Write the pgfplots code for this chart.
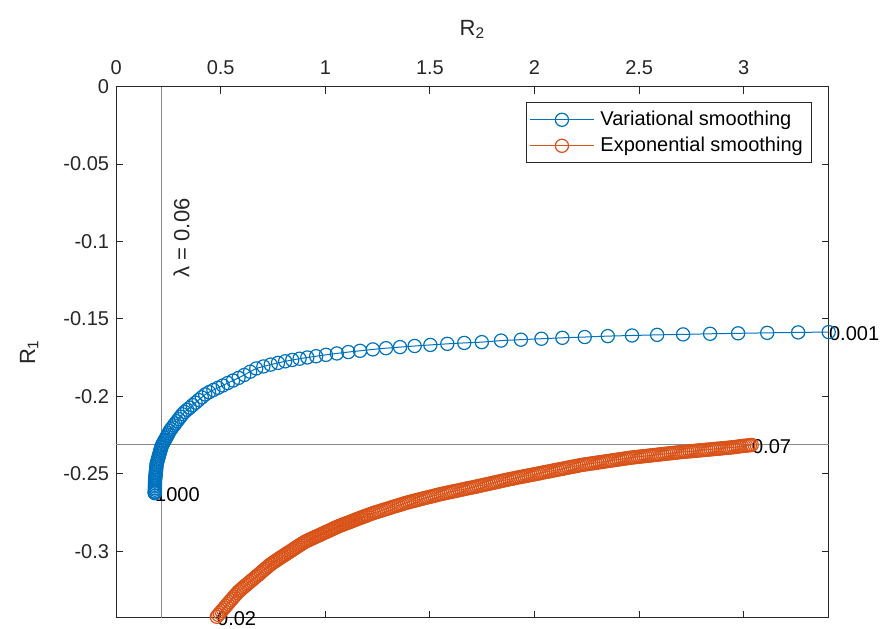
\documentclass[border=0pt]{standalone}
\usepackage{fontspec}
\setmainfont{Liberation Sans}
\usepackage{pgfplots}
\pgfplotsset{compat=1.18}
\definecolor{mblue}{RGB}{0,114,189}
\definecolor{morange}{RGB}{217,83,25}
\definecolor{maxis}{RGB}{38,38,38}
\definecolor{mgray}{RGB}{135,135,135}
\begin{document}
\begin{tikzpicture}
\begin{axis}[
  at={(0,0)}, anchor=south west,
  scale only axis, width=356.3pt, height=265.5pt,
  xmin=0, xmax=3.406, ymin=-0.343, ymax=0,
  clip=false,
  axis line style={maxis, line width=0.5pt},
  tick style={maxis, line width=0.5pt},
  major tick length=3.5pt,
  tick align=inside,
  xtick pos=both, ytick pos=both,
  xticklabel pos=right, yticklabel pos=left,
  xtick={0,0.5,1,1.5,2,2.5,3},
  ytick={-0.3,-0.25,-0.2,-0.15,-0.1,-0.05,0},
  yticklabels={-0.3,-0.25,-0.2,-0.15,-0.1,-0.05,0},
  xticklabels={0,0.5,1,1.5,2,2.5,3},
  ticklabel style={font=\fontsize{10}{12}\selectfont, text=maxis},
  xticklabel style={yshift=2.5pt},
  /pgf/number format/assume math mode=true,
  legend style={at={(1,1)}, anchor=north east, xshift=-8.2pt, yshift=-7.8pt,
    draw=maxis, line width=0.5pt, fill=white,
    font=\fontsize{10}{12}\selectfont, text=black,
    inner xsep=1.5pt, inner ysep=3.2pt, row sep=2.4pt,
    nodes={text height=7.4pt, text depth=2.2pt, inner xsep=3pt, inner ysep=0.5pt},
    cells={anchor=west}},
  legend image code/.code={\draw[mark repeat=2, mark phase=2] plot coordinates {(0pt,0pt) (16pt,0pt) (32pt,0pt)};},
]
\addplot[color=mblue, line width=0.5pt, mark=o, mark size=3.3pt, mark options={solid, line width=0.6pt}] coordinates {
(3.406,-0.1585) (3.260,-0.1587) (3.112,-0.1590) (2.973,-0.1593) (2.839,-0.1596)
(2.710,-0.1600) (2.586,-0.1603) (2.466,-0.1607) (2.350,-0.1611) (2.240,-0.1617)
(2.133,-0.1622) (2.033,-0.1628) (1.935,-0.1634) (1.840,-0.1640) (1.748,-0.1650)
(1.664,-0.1655) (1.583,-0.1661) (1.502,-0.1668) (1.427,-0.1675) (1.357,-0.1682)
(1.290,-0.1689) (1.227,-0.1697) (1.166,-0.1706) (1.110,-0.1714) (1.055,-0.1723)
(1.003,-0.1732) (0.956,-0.1741) (0.914,-0.1749) (0.877,-0.1757) (0.842,-0.1765)
(0.808,-0.1774) (0.774,-0.1784) (0.739,-0.1795) (0.704,-0.1807) (0.670,-0.1820)
(0.6405,-0.1841) (0.6124,-0.1862) (0.5854,-0.1881) (0.5591,-0.1898) (0.5340,-0.1914)
(0.5100,-0.1930) (0.4871,-0.1945) (0.4652,-0.1959) (0.4443,-0.1973) (0.4258,-0.1988)
(0.4097,-0.2007) (0.3944,-0.2024) (0.3798,-0.2041) (0.3657,-0.2057) (0.3524,-0.2073)
(0.3397,-0.2087) (0.3275,-0.2101) (0.3167,-0.2116) (0.3078,-0.2132) (0.2993,-0.2147)
(0.2912,-0.2161) (0.2834,-0.2175) (0.2760,-0.2188) (0.2689,-0.2201) (0.2622,-0.2213)
(0.2563,-0.2224) (0.2514,-0.2237) (0.2468,-0.2248) (0.2424,-0.2259) (0.2382,-0.2270)
(0.2342,-0.2280) (0.2303,-0.2289) (0.2267,-0.2298) (0.2231,-0.2307) (0.2198,-0.2316)
(0.2169,-0.2325) (0.2148,-0.2335) (0.2127,-0.2345) (0.2106,-0.2355) (0.2085,-0.2365)
(0.2064,-0.2375) (0.2043,-0.2386) (0.2022,-0.2396) (0.2001,-0.2406) (0.1980,-0.2416)
(0.1959,-0.2426) (0.1939,-0.2436) (0.1932,-0.2446) (0.1924,-0.2457) (0.1917,-0.2467)
(0.1909,-0.2478) (0.1901,-0.2488) (0.1894,-0.2498) (0.1886,-0.2509) (0.1879,-0.2519)
(0.1871,-0.2530) (0.1864,-0.2540) (0.1859,-0.2551) (0.1858,-0.2561) (0.1857,-0.2572)
(0.1855,-0.2582) (0.1854,-0.2593) (0.1853,-0.2603) (0.1851,-0.2614) (0.1850,-0.2620)
(0.1850,-0.2624) (0.1850,-0.2625)
};
\addlegendentry{Variational smoothing}
\addplot[color=morange, line width=0.5pt, mark=o, mark size=3.3pt, mark options={solid, line width=0.6pt}] coordinates {
(0.481,-0.3424) (0.496,-0.3400) (0.511,-0.3377) (0.526,-0.3353) (0.541,-0.3329)
(0.556,-0.3306) (0.571,-0.3282) (0.586,-0.3260) (0.601,-0.3243) (0.616,-0.3225)
(0.631,-0.3208) (0.646,-0.3191) (0.661,-0.3174) (0.676,-0.3157) (0.691,-0.3140)
(0.706,-0.3122) (0.721,-0.3105) (0.736,-0.3088) (0.751,-0.3073) (0.766,-0.3060)
(0.781,-0.3046) (0.796,-0.3033) (0.811,-0.3020) (0.826,-0.3007) (0.841,-0.2994)
(0.856,-0.2980) (0.871,-0.2967) (0.886,-0.2954) (0.901,-0.2941) (0.916,-0.2931)
(0.931,-0.2922) (0.946,-0.2912) (0.961,-0.2903) (0.976,-0.2894) (0.991,-0.2884)
(1.006,-0.2875) (1.021,-0.2866) (1.036,-0.2856) (1.051,-0.2847) (1.066,-0.2838)
(1.081,-0.2830) (1.096,-0.2822) (1.111,-0.2815) (1.126,-0.2807) (1.141,-0.2799)
(1.156,-0.2791) (1.171,-0.2783) (1.186,-0.2776) (1.201,-0.2768) (1.221,-0.2758)
(1.241,-0.2749) (1.261,-0.2741) (1.281,-0.2732) (1.301,-0.2724) (1.321,-0.2715)
(1.341,-0.2707) (1.361,-0.2699) (1.381,-0.2690) (1.401,-0.2683) (1.421,-0.2676)
(1.441,-0.2669) (1.461,-0.2662) (1.481,-0.2655) (1.501,-0.2649) (1.521,-0.2642)
(1.541,-0.2635) (1.561,-0.2629) (1.581,-0.2623) (1.601,-0.2617) (1.621,-0.2612)
(1.641,-0.2606) (1.661,-0.2600) (1.681,-0.2594) (1.701,-0.2589) (1.721,-0.2583)
(1.741,-0.2577) (1.761,-0.2571) (1.781,-0.2565) (1.801,-0.2559) (1.821,-0.2553)
(1.841,-0.2547) (1.861,-0.2541) (1.881,-0.2535) (1.901,-0.2530) (1.921,-0.2524)
(1.941,-0.2519) (1.961,-0.2514) (1.981,-0.2508) (2.001,-0.2503) (2.021,-0.2498)
(2.041,-0.2492) (2.061,-0.2487) (2.081,-0.2482) (2.101,-0.2476) (2.121,-0.2471)
(2.141,-0.2466) (2.161,-0.2460) (2.181,-0.2455) (2.201,-0.2450) (2.221,-0.2444)
(2.241,-0.2440) (2.261,-0.2436) (2.281,-0.2432) (2.301,-0.2428) (2.321,-0.2424)
(2.341,-0.2420) (2.361,-0.2416) (2.381,-0.2412) (2.401,-0.2408) (2.421,-0.2404)
(2.441,-0.2400) (2.461,-0.2396) (2.481,-0.2393) (2.501,-0.2390) (2.521,-0.2387)
(2.541,-0.2384) (2.561,-0.2381) (2.581,-0.2378) (2.601,-0.2375) (2.621,-0.2372)
(2.641,-0.2369) (2.661,-0.2366) (2.681,-0.2363) (2.701,-0.2360) (2.721,-0.2358)
(2.741,-0.2355) (2.761,-0.2353) (2.781,-0.2350) (2.801,-0.2348) (2.821,-0.2345)
(2.841,-0.2343) (2.861,-0.2340) (2.881,-0.2338) (2.901,-0.2335) (2.921,-0.2333)
(2.941,-0.2330) (2.961,-0.2327) (2.981,-0.2323) (3.001,-0.2320) (3.021,-0.2317)
(3.038,-0.2314)
};
\addlegendentry{Exponential smoothing}
\addplot[color=morange, only marks, mark=o, mark size=3.3pt, mark options={solid, line width=0.6pt}, forget plot] coordinates {
(0.4885,-0.3412) (0.5035,-0.33885) (0.5185,-0.3365) (0.5335,-0.3341) (0.5485,-0.33175)
(0.5635,-0.3294) (0.5785,-0.3271) (0.5935,-0.32515) (0.6085,-0.3234) (0.6235,-0.32165)
(0.6385,-0.31995) (0.6535,-0.31825) (0.6685,-0.31655) (0.6835,-0.31485) (0.6985,-0.3131)
(0.7135,-0.31135) (0.7285,-0.30965) (0.7435,-0.30805) (0.7585,-0.30665) (0.7735,-0.3053)
(0.7885,-0.30395) (0.8035,-0.30265) (0.8185,-0.30135) (0.8335,-0.30005) (0.8485,-0.2987)
(0.8635,-0.29735) (0.8785,-0.29605) (0.8935,-0.29475) (0.9085,-0.2936) (0.9235,-0.29265)
(0.9385,-0.2917) (0.9535,-0.29075) (0.9685,-0.28985) (0.9835,-0.2889) (0.9985,-0.28795)
(1.0135,-0.28705) (1.0285,-0.2861) (1.0435,-0.28515) (1.0585,-0.28425) (1.0735,-0.2834)
(1.0885,-0.2826) (1.1035,-0.28185) (1.1185,-0.2811) (1.1335,-0.2803) (1.1485,-0.2795)
(1.1635,-0.2787) (1.1785,-0.27795) (1.1935,-0.2772) (1.211,-0.2763) (1.231,-0.27535)
(1.251,-0.2745) (1.271,-0.27365) (1.291,-0.2728) (1.311,-0.27195) (1.331,-0.2711)
(1.351,-0.2703) (1.371,-0.26945) (1.391,-0.26865) (1.411,-0.26795) (1.431,-0.26725)
(1.451,-0.26655) (1.471,-0.26585) (1.491,-0.2652) (1.511,-0.26455) (1.531,-0.26385)
(1.551,-0.2632) (1.571,-0.2626) (1.591,-0.2620) (1.611,-0.26145) (1.631,-0.2609)
(1.651,-0.2603) (1.671,-0.2597) (1.691,-0.25915) (1.711,-0.2586) (1.731,-0.2580)
(1.751,-0.2574) (1.771,-0.2568) (1.791,-0.2562) (1.811,-0.2556) (1.831,-0.2550)
(1.851,-0.2544) (1.871,-0.2538) (1.891,-0.25325) (1.911,-0.2527) (1.931,-0.25215)
(1.951,-0.25165) (1.971,-0.2511) (1.991,-0.25055) (2.011,-0.25005) (2.031,-0.2495)
(2.051,-0.24895) (2.071,-0.24845) (2.091,-0.2479) (2.111,-0.24735) (2.131,-0.24685)
(2.151,-0.2463) (2.171,-0.24575) (2.191,-0.24525) (2.211,-0.2447) (2.231,-0.2442)
(2.251,-0.2438) (2.271,-0.2434) (2.291,-0.2430) (2.311,-0.2426) (2.331,-0.2422)
(2.351,-0.2418) (2.371,-0.2414) (2.391,-0.2410) (2.411,-0.2406) (2.431,-0.2402)
(2.451,-0.2398) (2.471,-0.23945) (2.491,-0.23915) (2.511,-0.23885) (2.531,-0.23855)
(2.551,-0.23825) (2.571,-0.23795) (2.591,-0.23765) (2.611,-0.23735) (2.631,-0.23705)
(2.651,-0.23675) (2.671,-0.23645) (2.691,-0.23615) (2.711,-0.2359) (2.731,-0.23565)
(2.751,-0.2354) (2.771,-0.23515) (2.791,-0.2349) (2.811,-0.23465) (2.831,-0.2344)
(2.851,-0.23415) (2.871,-0.2339) (2.891,-0.23365) (2.911,-0.2334) (2.931,-0.23315)
(2.951,-0.23285) (2.971,-0.2325) (2.991,-0.23215) (3.011,-0.23185) (3.0295,-0.23155)
};
\draw[mgray, line width=0.6pt] (axis cs:0.217,0) -- (axis cs:0.217,-0.343);
\draw[mgray, line width=0.6pt] (axis cs:0,-0.2312) -- (axis cs:3.406,-0.2312);
\node[rotate=90, font=\fontsize{11}{13}\selectfont, text=maxis] at (axis cs:0.3126,-0.0977) {λ = 0.06};
\node[anchor=west, inner sep=0pt, yshift=-1pt, font=\fontsize{10}{12}\selectfont] at (axis cs:3.406,-0.1585) {0.001};
\node[anchor=west, inner sep=0pt, yshift=-1pt, font=\fontsize{10}{12}\selectfont] at (axis cs:0.185,-0.2625) {1000};
\node[anchor=west, inner sep=0pt, yshift=-1pt, font=\fontsize{10}{12}\selectfont] at (axis cs:0.481,-0.3424) {0.02};
\node[anchor=west, inner sep=0pt, yshift=-1pt, font=\fontsize{10}{12}\selectfont] at (axis cs:3.038,-0.2314) {0.07};
\node[anchor=base, font=\fontsize{11}{13}\selectfont, text=maxis] at ([yshift=25.5pt]rel axis cs:0.5,1) {R\textsubscript{2}};
\node[anchor=base, rotate=90, font=\fontsize{11}{13}\selectfont, text=maxis] at ([xshift=-40.5pt]rel axis cs:0,0.5) {R\textsubscript{1}};
\end{axis}
\pgfresetboundingbox
\path[use as bounding box] (-58.05pt,-5.15pt) rectangle (383.95pt,308.85pt);
\end{tikzpicture}
\end{document}
